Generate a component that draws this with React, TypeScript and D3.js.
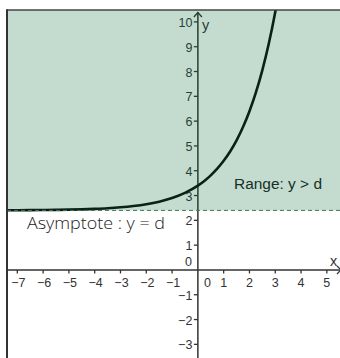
import React, { useEffect, useRef } from "react";
import * as d3 from "d3";

// f(x) = 2^x + d, sampled points
const curveX = [-8, -7.5, -7, -6.5, -6, -5.5, -5, -4.5, -4, -3.5, -3, -2.5, -2, -1.5, -1, -0.5, 0, 0.25, 0.5, 0.75, 1, 1.25, 1.5, 1.75, 2, 2.25, 2.5, 2.75, 3, 3.1];
const curveY = [2.404, 2.406, 2.408, 2.411, 2.416, 2.422, 2.431, 2.444, 2.463, 2.488, 2.525, 2.577, 2.65, 2.754, 2.9, 3.107, 3.4, 3.589, 3.814, 4.082, 4.4, 4.778, 5.228, 5.764, 6.4, 7.157, 8.057, 9.127, 10.4, 10.976];
const asymptoteY = 2.4;
const xTicks = [-7, -6, -5, -4, -3, -2, -1, 1, 2, 3, 4, 5];
const yTicks = [-3, -2, -1, 1, 2, 3, 4, 5, 6, 7, 8, 9, 10];
const rangeLabel = "Range: y > d";
const asymptoteLabel = "Asymptote : y = d";

const W = 340;
const H = 358;

export default function App() {
  const ref = useRef<SVGSVGElement>(null);

  useEffect(() => {
    const svg = d3.select(ref.current);
    svg.selectAll("*").remove();

    const x = d3.scaleLinear().domain([-7.4, 5.51]).range([7, 340]);
    const y = d3.scaleLinear().domain([-3.55, 10.44]).range([358, 11]);
    const x0 = x(0);
    const y0 = y(0);
    const font = "'Liberation Sans', Arial, sans-serif";
    const ink = "#333";
    const tickSize = 12.5;

    const clipId = "plot-clip";
    svg.append("defs").append("clipPath").attr("id", clipId)
      .append("rect").attr("x", 7).attr("y", 10).attr("width", W - 7).attr("height", H - 10);

    const g = svg.append("g").attr("clip-path", `url(#${clipId})`);

    // axes
    g.append("line").attr("x1", 7).attr("x2", W).attr("y1", y0).attr("y2", y0)
      .attr("stroke", ink).attr("stroke-width", 1.5);
    g.append("line").attr("x1", x0).attr("x2", x0).attr("y1", 12).attr("y2", H)
      .attr("stroke", ink).attr("stroke-width", 1.5);
    // y arrow
    g.append("path").attr("d", `M${x0 - 4},${17} L${x0},${12.5} L${x0 + 4},${17}`)
      .attr("fill", "none").attr("stroke", ink).attr("stroke-width", 1.3);
    // x arrow
    g.append("path").attr("d", `M${W - 3},${y0 - 4} L${W + 1},${y0} L${W - 3},${y0 + 4}`)
      .attr("fill", "none").attr("stroke", ink).attr("stroke-width", 1.3);

    // x ticks
    g.selectAll(".xt").data(xTicks).enter().append("line")
      .attr("x1", (d) => x(d)).attr("x2", (d) => x(d))
      .attr("y1", y0).attr("y2", y0 + 3.5)
      .attr("stroke", ink).attr("stroke-width", 1.3);
    g.selectAll(".xl").data(xTicks).enter().append("text")
      .attr("x", (d) => x(d) + (d < 0 ? 1 : 0)).attr("y", y0 + 17.5)
      .attr("text-anchor", "middle")
      .attr("font-family", font).attr("font-size", tickSize).attr("fill", ink)
      .text((d) => (d < 0 ? "\u2212" + Math.abs(d) : String(d)));
    g.append("text").attr("x", x0 + 9.5).attr("y", y0 + 17.5).attr("text-anchor", "middle")
      .attr("font-family", font).attr("font-size", tickSize).attr("fill", ink).text("0");

    // y ticks
    g.selectAll(".yt").data(yTicks).enter().append("line")
      .attr("x1", x0 - 4).attr("x2", x0)
      .attr("y1", (d) => y(d)).attr("y2", (d) => y(d))
      .attr("stroke", ink).attr("stroke-width", 1.3);
    g.selectAll(".yl").data(yTicks).enter().append("text")
      .attr("x", x0 - 5.5).attr("y", (d) => y(d) + 5)
      .attr("text-anchor", "end")
      .attr("font-family", font).attr("font-size", tickSize).attr("fill", ink)
      .text((d) => (d < 0 ? "\u2212" + Math.abs(d) : String(d)));
    g.append("text").attr("x", x0 - 6).attr("y", y0 - 3.5).attr("text-anchor", "end")
      .attr("font-family", font).attr("font-size", tickSize).attr("fill", ink).text("0");

    // axis names
    g.append("text").attr("x", x0 + 4).attr("y", 30)
      .attr("font-family", font).attr("font-size", 14.5).attr("fill", ink).text("y");
    g.append("text").attr("x", 330).attr("y", y0 - 3.5)
      .attr("font-family", font).attr("font-size", 14.5).attr("fill", ink).text("x");

    // curve
    const pts = curveX.map((v, i) => [v, curveY[i]] as [number, number]);
    const line = d3.line<[number, number]>()
      .x((d) => x(d[0])).y((d) => y(d[1]))
      .curve(d3.curveMonotoneX);
    g.append("path").attr("d", line(pts))
      .attr("fill", "none").attr("stroke", "#0d0d0d").attr("stroke-width", 2.6);

    // range label
    g.append("text").attr("x", 234).attr("y", 189)
      .attr("font-family", font).attr("font-size", 15.5).attr("fill", "#222")
      .attr("textLength", 88).attr("lengthAdjust", "spacingAndGlyphs").text(rangeLabel);

    // shaded range region above asymptote
    g.append("rect").attr("x", 7).attr("y", 10)
      .attr("width", W - 7).attr("height", y(asymptoteY) - 10)
      .attr("fill", "#006432").attr("fill-opacity", 0.23);
    g.append("line").attr("x1", 7).attr("x2", W)
      .attr("y1", y(asymptoteY)).attr("y2", y(asymptoteY))
      .attr("stroke", "#3d7a58").attr("stroke-width", 1)
      .attr("stroke-dasharray", "4,3");

    // asymptote label
    g.append("text").attr("x", 27).attr("y", 228.5)
      .attr("font-family", "'Open Sans', 'Liberation Sans', sans-serif").attr("font-size", 16)
      .attr("font-weight", 300).attr("fill", "#222")
      .attr("textLength", 138).attr("lengthAdjust", "spacingAndGlyphs").text(asymptoteLabel);

    // frame
    svg.append("line").attr("x1", 7).attr("x2", W).attr("y1", 10).attr("y2", 10)
      .attr("stroke", "#444").attr("stroke-width", 1.5);
    svg.append("line").attr("x1", 7).attr("x2", 7).attr("y1", 9.25).attr("y2", H)
      .attr("stroke", "#333").attr("stroke-width", 2);
  }, []);

  return (
    <svg
      ref={ref}
      width={W}
      height={H}
      style={{ position: "absolute", left: 0, top: 0, background: "#fff" }}
    />
  );
}
